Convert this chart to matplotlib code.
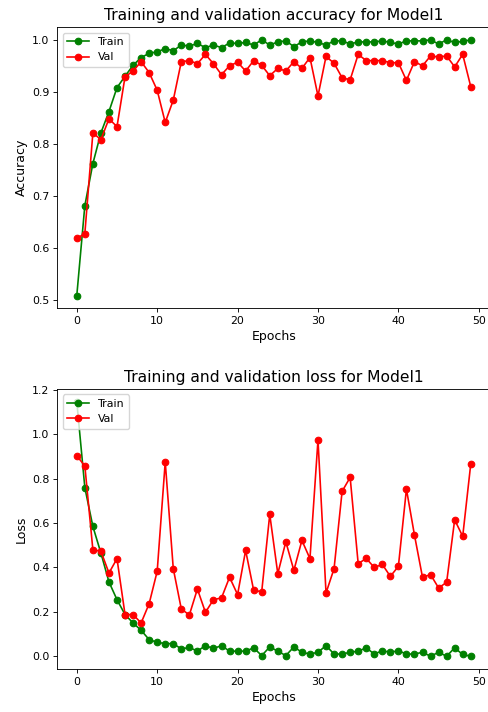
import numpy as np
import matplotlib
matplotlib.use('Agg')
import matplotlib.pyplot as plt

# -- data ---------------------------------------------------------------------
epochs = list(range(50))

train_acc = [0.508, 0.681, 0.762, 0.821, 0.862, 0.908, 0.930, 0.951, 0.966, 0.974,
             0.977, 0.983, 0.979, 0.990, 0.988, 0.993, 0.985, 0.990, 0.985, 0.994,
             0.993, 0.995, 0.990, 1.000, 0.990, 0.996, 0.998, 0.987, 0.996, 0.998,
             0.995, 0.990, 0.998, 0.998, 0.992, 0.996, 0.996, 0.996, 0.998, 0.995,
             0.992, 0.998, 0.998, 0.998, 1.000, 0.992, 1.000, 0.995, 0.997, 1.000]
val_acc = [0.618, 0.627, 0.821, 0.808, 0.848, 0.833, 0.929, 0.940, 0.958, 0.937,
           0.903, 0.841, 0.884, 0.958, 0.960, 0.954, 0.972, 0.954, 0.933, 0.950,
           0.957, 0.940, 0.960, 0.951, 0.931, 0.945, 0.940, 0.958, 0.945, 0.966,
           0.892, 0.968, 0.955, 0.927, 0.923, 0.972, 0.960, 0.960, 0.960, 0.956,
           0.956, 0.922, 0.958, 0.950, 0.969, 0.967, 0.969, 0.948, 0.972, 0.910]

train_loss = [1.147, 0.760, 0.585, 0.465, 0.335, 0.255, 0.188, 0.150, 0.117, 0.075,
              0.063, 0.057, 0.057, 0.033, 0.040, 0.023, 0.048, 0.035, 0.048, 0.023,
              0.023, 0.023, 0.038, 0.003, 0.042, 0.023, 0.003, 0.042, 0.018, 0.010,
              0.018, 0.048, 0.010, 0.010, 0.018, 0.023, 0.038, 0.010, 0.025, 0.018,
              0.025, 0.010, 0.010, 0.018, 0.000, 0.018, 0.000, 0.038, 0.008, 0.000]
val_loss = [0.903, 0.858, 0.480, 0.473, 0.375, 0.440, 0.188, 0.188, 0.150, 0.237,
            0.383, 0.876, 0.395, 0.213, 0.186, 0.303, 0.198, 0.255, 0.263, 0.356,
            0.278, 0.477, 0.297, 0.291, 0.639, 0.372, 0.516, 0.387, 0.522, 0.440,
            0.975, 0.285, 0.395, 0.743, 0.806, 0.417, 0.441, 0.400, 0.414, 0.360,
            0.405, 0.753, 0.546, 0.356, 0.368, 0.308, 0.333, 0.615, 0.540, 0.866]

# -- style (reference was drawn at ~79 dpi, we save at 100) --------------------
S = 0.79
plt.rcParams['font.size'] = 10 * S
plt.rcParams['axes.titlesize'] = 11.2
plt.rcParams['axes.labelsize'] = 9.0
plt.rcParams['lines.linewidth'] = 1.5 * S
plt.rcParams['lines.markersize'] = 6 * S
plt.rcParams['lines.markeredgewidth'] = 1.0 * S
plt.rcParams['axes.linewidth'] = 0.8 * S
for k in ('xtick', 'ytick'):
    plt.rcParams[k + '.major.width'] = 0.8 * S
    plt.rcParams[k + '.major.size'] = 3.5 * S
    plt.rcParams[k + '.major.pad'] = 3.5 * S
plt.rcParams['axes.titlepad'] = 6 * S
plt.rcParams['axes.labelpad'] = 4 * S

fig = plt.figure(figsize=(4.88, 7.12), dpi=100)
ax1 = fig.add_axes([0.117, 0.567, 1.005 - 0.117, 0.962 - 0.567])
ax2 = fig.add_axes([0.117, 0.0604, 1.005 - 0.117, 0.4537 - 0.0604])

ax1.plot(epochs, train_acc, 'o-', color='green', label='Train')
ax1.plot(epochs, val_acc, 'o-', color='red', label='Val')
ax1.set_title('Training and validation accuracy for Model1')
ax1.set_xlabel('Epochs')
ax1.set_ylabel('Accuracy')
ax1.legend(loc='upper left')

ax2.plot(epochs, train_loss, 'o-', color='green', label='Train')
ax2.plot(epochs, val_loss, 'o-', color='red', label='Val')
ax2.set_title('Training and validation loss for Model1')
ax2.set_xlabel('Epochs')
ax2.set_ylabel('Loss')
ax2.legend(loc='upper left')

fig.savefig('out.png', dpi=100, facecolor='white')
plt.close(fig)
